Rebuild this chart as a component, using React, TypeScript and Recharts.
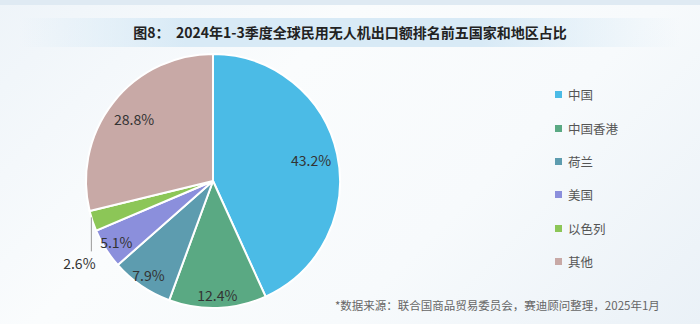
import React from 'react';
import { PieChart, Pie, Cell, Legend } from 'recharts';

const regions = ['中国', '中国香港', '荷兰', '美国', '以色列', '其他'];
const shares = [43.2, 12.4, 7.9, 5.1, 2.6, 28.8];
const colors = ['#4bbbe6', '#5aa983', '#5d9caf', '#8b8fdc', '#8cc657', '#c8a9a6'];

const data = regions.map((name, i) => ({ name, value: shares[i] }));

const FONT = '"Noto Sans CJK SC", "Noto Sans", sans-serif';
const RAD = Math.PI / 180;

const renderLabel = (props: any) => {
  const { cx, cy, midAngle, outerRadius, percent, value } = props;
  const cos = Math.cos(-midAngle * RAD);
  const sin = Math.sin(-midAngle * RAD);
  if (percent < 0.03) {
    // small slice: label sits outside with a short vertical leader
    const ex = cx + (outerRadius - 2) * cos - 3;
    const ey = cy + (outerRadius - 2) * sin - 3;
    return (
      <g>
        <line x1={ex} y1={ey} x2={ex} y2={ey + 34} stroke="#999" strokeWidth={1} />
        <text x={ex - 12} y={ey + 46} textAnchor="middle" dominantBaseline="central"
          fill="#333" fontSize={14} fontFamily={FONT}>
          {value.toFixed(1)}%
        </text>
      </g>
    );
  }
  const r = outerRadius * (percent > 0.2 ? 0.79 : 0.9);
  return (
    <text x={cx + r * cos} y={cy + r * sin} textAnchor="middle" dominantBaseline="central"
      fill="#333" fontSize={14} fontFamily={FONT}>
      {value.toFixed(1)}%
    </text>
  );
};

const LegendList = () => (
  <div style={{ fontFamily: FONT }}>
    {regions.map((name, i) => (
      <div key={name} style={{ display: 'flex', alignItems: 'center', height: 33.4 }}>
        <span style={{ display: 'inline-block', width: 7, height: 7, background: colors[i], marginRight: 6 }} />
        <span style={{ fontSize: 12.5, color: '#555' }}>{name}</span>
      </div>
    ))}
  </div>
);

export default function App() {
  return (
    <div
      style={{
        position: 'absolute',
        left: 0,
        top: 0,
        width: 700,
        height: 324,
        overflow: 'hidden',
        background: 'linear-gradient(135deg, #eef4f9 0%, #fafcfd 35%, #f7fafc 65%, #eaf1f7 100%)',
        fontFamily: FONT,
      }}
    >
      <div style={{ position: 'absolute', left: 0, top: 0, width: 700, height: 5, background: '#dfeaf3' }} />
      <div
        style={{
          position: 'absolute',
          left: 20,
          top: 18,
          width: 660,
          height: 29,
          background: 'linear-gradient(90deg, rgba(214,233,246,0) 0%, #d8eaf6 25%, #d8eaf6 70%, rgba(214,233,246,0) 100%)',
        }}
      />
      <div
        style={{
          position: 'absolute',
          left: 0,
          top: 18,
          width: 700,
          height: 29,
          lineHeight: '29px',
          textAlign: 'center',
          fontSize: 14,
          fontWeight: 700,
          color: '#222',
        }}
      >
        图8：&nbsp;&nbsp;2024年1-3季度全球民用无人机出口额排名前五国家和地区占比
      </div>
      <PieChart
        width={700}
        height={324}
        margin={{ top: 0, right: 0, bottom: 0, left: 0 }}
        style={{ position: 'absolute', left: 0, top: 0 }}
      >
        <Pie
          data={data}
          dataKey="value"
          nameKey="name"
          cx={213}
          cy={181}
          outerRadius={127}
          startAngle={90}
          endAngle={-270}
          stroke="#ffffff"
          strokeWidth={2}
          label={renderLabel}
          labelLine={false}
          isAnimationActive={false}
        >
          {data.map((d, i) => (
            <Cell key={d.name} fill={colors[i]} />
          ))}
        </Pie>
        <Legend
          content={<LegendList />}
          wrapperStyle={{ position: 'absolute', left: 555, top: 78, width: 120, bottom: 'auto' }}
        />
      </PieChart>
      <div
        style={{
          position: 'absolute',
          left: 335,
          top: 297,
          fontSize: 11.5,
          color: '#666',
          whiteSpace: 'nowrap',
        }}
      >
        *数据来源：联合国商品贸易委员会，赛迪顾问整理，2025年1月
      </div>
    </div>
  );
}
